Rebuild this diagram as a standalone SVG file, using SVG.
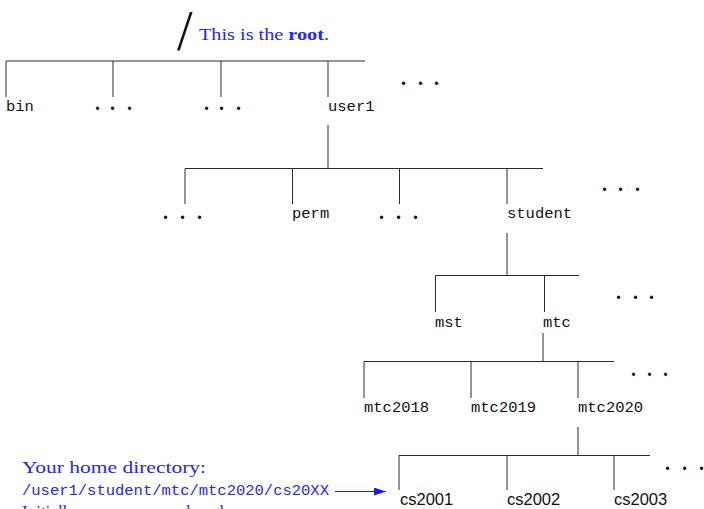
<svg xmlns="http://www.w3.org/2000/svg" width="704" height="509" viewBox="0 0 704 509">
<defs>
<style>
.bg{fill:#fff}
.ln{stroke:#2a2a2a;stroke-width:1;fill:none}
.mono{font-family:"Liberation Mono","DejaVu Sans Mono",monospace;font-size:15.5px;fill:#111}
.sans{font-family:"Liberation Sans",Arial,sans-serif;font-size:16.5px;fill:#111}
.dots{font-family:"Liberation Serif","Times New Roman",serif;font-weight:bold;font-size:20px;fill:#111}
.blue{fill:#2424ff}
.serif{font-family:"Liberation Serif","Times New Roman",serif;font-size:17px}
.bmono{font-family:"Liberation Mono","DejaVu Sans Mono",monospace;font-size:15.5px}
</style>
<marker id="ah" markerWidth="12" markerHeight="8" refX="12" refY="4" orient="auto" markerUnits="userSpaceOnUse">
<path d="M0,0 L12,4 L0,8 Z" fill="#1a1aff"/>
</marker>
</defs>
<rect class="bg" x="0" y="0" width="704" height="509"/>

<g id="connectors" class="ln">
<path d="M6,61 H365 M6,61 V97 M113,61 V97 M221,61 V97 M328,61 V97"/>
<path d="M328,125 V168.5 M185,168.5 H543 M185,168.5 V204 M292.5,168.5 V204 M399.5,168.5 V204 M507,168.5 V204"/>
<path d="M507,233 V275.5 M435.5,275.5 H579 M435.5,275.5 V312 M544.5,275.5 V312"/>
<path d="M543,333 V361.5 M364,361.5 H614 M364,361.5 V398 M471,361.5 V398 M578,361.5 V398"/>
<path d="M578,427 V455.5 M399,455.5 H650 M399,455.5 V490 M507,455.5 V490 M614,455.5 V490"/>
<line x1="335" y1="491.5" x2="386" y2="491.5" stroke="#1a1aff" stroke-width="1.2" marker-end="url(#ah)"/>
</g>

<g id="root">
<text x="177" y="50" font-family="Liberation Serif,Times New Roman,serif" font-size="56" fill="#111">/</text>
<text x="199" y="40" class="serif blue" textLength="130" lengthAdjust="spacingAndGlyphs">This is the <tspan font-weight="bold">root</tspan>.</text>
</g>

<g id="bin"><text class="mono" x="6" y="111">bin</text></g>
<g id="dots-l0a"><text class="dots" x="95 110 127" y="110">...</text></g>
<g id="dots-l0b"><text class="dots" x="204 219 236" y="110">...</text></g>
<g id="user1"><text class="mono" x="328" y="111">user1</text></g>
<g id="dots-l0c"><text class="dots" x="401 418 434" y="85">...</text></g>

<g id="dots-l1a"><text class="dots" x="163 180 197" y="219">...</text></g>
<g id="perm"><text class="mono" x="292" y="218">perm</text></g>
<g id="dots-l1b"><text class="dots" x="379 396 413" y="219">...</text></g>
<g id="student"><text class="mono" x="507" y="218">student</text></g>
<g id="dots-l1c"><text class="dots" x="602 618 635" y="191">...</text></g>

<g id="mst"><text class="mono" x="435" y="327">mst</text></g>
<g id="mtc"><text class="mono" x="543" y="327">mtc</text></g>
<g id="dots-l2"><text class="dots" x="616 633 649" y="299">...</text></g>

<g id="mtc2018"><text class="mono" x="364" y="412">mtc2018</text></g>
<g id="mtc2019"><text class="mono" x="471" y="412">mtc2019</text></g>
<g id="mtc2020"><text class="mono" x="578" y="412">mtc2020</text></g>
<g id="dots-l3"><text class="dots" x="631 647 663" y="376">...</text></g>

<g id="cs2001"><text class="sans" x="400" y="505">cs2001</text></g>
<g id="cs2002"><text class="sans" x="507" y="505">cs2002</text></g>
<g id="cs2003"><text class="sans" x="614" y="505">cs2003</text></g>
<g id="dots-l4"><text class="dots" x="665 682 699" y="470">...</text></g>

<g id="home-note">
<text class="serif blue" x="22" y="473" textLength="184" lengthAdjust="spacingAndGlyphs">Your home directory:</text>
<text class="bmono blue" x="22" y="495">/user1/student/mtc/mtc2020/cs20XX</text>
<text class="serif blue" x="22" y="517">Initially, you are somewhere here.</text>
</g>
</svg>
